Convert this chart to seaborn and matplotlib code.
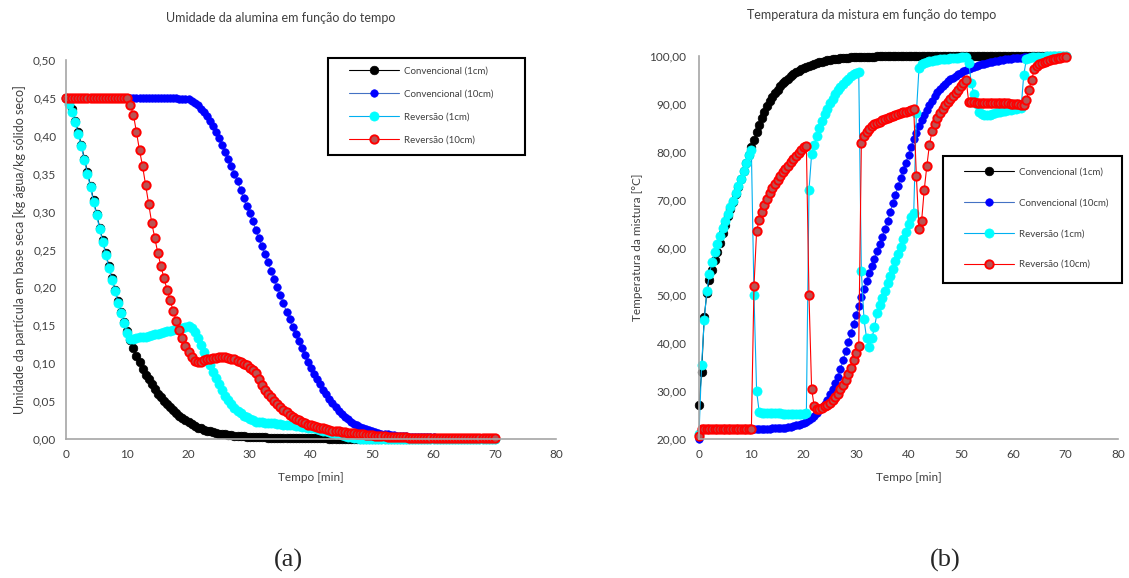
import numpy as np
import matplotlib
matplotlib.use("Agg")
import matplotlib.pyplot as plt
from matplotlib.patches import Rectangle
from matplotlib.ticker import FuncFormatter
import seaborn as sns

# sample times [min], one reading every 0.5 min
TIME = np.arange(0, 70.5, 0.5)

SERIES = ["Convencional (1cm)", "Convencional (10cm)", "Reversão (1cm)", "Reversão (10cm)"]

# (a) moisture [kg water / kg dry solid]
M_CONV_1CM = [
    .450, .445, .435, .420, .405, .388, .370, .352, .334, .315,
    .297, .279, .262, .245, .228, .212, .197, .182, .168, .155,
    .142, .130, .120, .110, .101, .093, .085, .079, .072, .066,
    .060, .055, .050, .046, .042, .038, .034, .031, .028, .025,
    .022, .020, .017, .015, .014, .012, .011, .010, .009, .008,
    .007, .0065, .006, .0055, .005, .0045, .004, .0037, .0034, .0031,
    .003, .0028, .0026, .0024, .0022, .002, .0019, .0018, .0017, .0016,
    .0015, .0014, .0013, .0012, .0012, .0011, .0011, .001, .001, .001,
    .0009, .0009, .0008, .0008, .0007, .0007, .0006, .0006, .0005, .0005,
    .0005, .0004, .0004, .0004, .0003, .0003, .0003, .0003, .0002, .0002,
    .0002, .0002, .0002, .0002, .0002, .0001, .0001, .0001, .0001, .0001,
    .0001, .0001, .0001, .0001, .0001, .0001, .0001, .0001, .0001, .0001,
    0, 0, 0, 0, 0, 0, 0, 0, 0, 0,
    0, 0, 0, 0, 0, 0, 0, 0, 0, 0,
    0,
]
M_CONV_10CM = [
    .450, .450, .450, .450, .450, .450, .450, .450, .450, .450,
    .450, .450, .450, .450, .450, .450, .450, .450, .450, .450,
    .450, .450, .450, .450, .450, .450, .450, .450, .450, .450,
    .450, .450, .450, .450, .450, .4498, .4495, .449, .4485, .4482,
    .448, .446, .443, .440, .436, .431, .426, .420, .413, .405,
    .397, .388, .379, .369, .360, .350, .340, .329, .318, .307,
    .298, .287, .276, .265, .254, .244, .233, .222, .211, .200,
    .190, .179, .168, .158, .148, .138, .129, .120, .111, .102,
    .094, .086, .079, .072, .065, .059, .053, .047, .042, .037,
    .033, .029, .026, .023, .020, .018, .016, .0145, .013, .0115,
    .010, .009, .008, .0072, .0065, .006, .0055, .005, .0045, .004,
    .0037, .0035, .0032, .003, .0028, .0026, .0025, .0023, .0022, .0021,
    .002, .0019, .0018, .0017, .0016, .0015, .0015, .0014, .0014, .0013,
    .0013, .0012, .0012, .0012, .0011, .0011, .0011, .001, .001, .001,
    .001,
]
M_REV_1CM = [
    .450, .442, .432, .418, .402, .386, .368, .350, .332, .313,
    .295, .277, .260, .243, .226, .210, .195, .180, .166, .153,
    .140, .132, .132, .133, .134, .135, .135, .136, .137, .138,
    .139, .140, .141, .142, .143, .144, .145, .146, .147, .148,
    .149, .147, .141, .133, .124, .115, .106, .097, .088, .080,
    .072, .064, .057, .051, .046, .041, .037, .034, .031, .029,
    .027, .025, .023, .022, .022, .021, .021, .021, .021, .020,
    .020, .019, .019, .018, .018, .017, .017, .016, .016, .015,
    .015, .014, .013, .012, .011, .010, .009, .008, .007, .006,
    .005, .004, .003, .002, .0015, .001, .0005, .0003, .0002, .0001,
    0, 0, 0, 0, 0, 0, 0, 0, 0, 0,
    0, 0, 0, 0, 0, 0, 0, 0, 0, 0,
    0, 0, 0, 0, 0, 0, 0, 0, 0, 0,
    0, 0, 0, 0, 0, 0, 0, 0, 0, 0,
    0,
]
M_REV_10CM = [
    .450, .450, .450, .450, .450, .450, .450, .450, .450, .450,
    .450, .450, .450, .450, .450, .450, .450, .450, .450, .450,
    .450, .440, .428, .405, .381, .360, .335, .310, .285, .265,
    .245, .228, .212, .197, .183, .169, .156, .144, .133, .123,
    .115, .108, .103, .101, .102, .104, .105, .106, .107, .107,
    .108, .108, .108, .107, .106, .105, .103, .101, .099, .097,
    .094, .091, .087, .079, .071, .065, .060, .055, .050, .046,
    .042, .038, .035, .032, .029, .027, .025, .023, .021, .019,
    .018, .017, .016, .015, .014, .013, .012, .011, .0105, .010,
    .0095, .009, .0085, .008, .0075, .007, .0065, .006, .0055, .005,
    .0047, .0044, .004, .0037, .0035, .0032, .003, .0028, .0025, .0023,
    .002, .002, .0019, .0018, .0018, .0017, .0016, .0016, .0015, .0015,
    .0014, .0014, .0013, .0013, .0012, .0012, .0012, .0011, .0011, .0011,
    .001, .001, .001, .001, .001, .001, .001, .001, .001, .001,
    .001,
]

# (b) mixture temperature [°C]
T_CONV_1CM = [
    27.0, 34.0, 45.5, 50.5, 53.3, 55.4, 57.3, 59.1, 61.0, 63.0,
    64.8, 66.5, 68.1, 69.6, 71.1, 72.7, 74.3, 76.0, 77.7, 79.3,
    80.9, 82.5, 84.1, 85.6, 87.0, 88.3, 89.5, 90.5, 91.4, 92.3,
    93.0, 93.7, 94.3, 94.8, 95.3, 95.8, 96.2, 96.6, 96.9, 97.2,
    97.5, 97.8, 98.0, 98.2, 98.4, 98.55, 98.7, 98.85, 99.0, 99.1,
    99.2, 99.3, 99.35, 99.45, 99.5, 99.55, 99.6, 99.65, 99.7, 99.72,
    99.75, 99.78, 99.8, 99.82, 99.85, 99.86, 99.88, 99.89, 99.9, 99.91,
    99.93, 99.94, 99.95, 99.95, 99.96, 99.96, 99.97, 99.97, 99.97, 99.98,
    99.98, 99.98, 99.99, 99.99, 99.99, 99.99, 100, 100, 100, 100,
    100, 100, 100, 100, 100, 100, 100, 100, 100, 100,
    100, 100, 100, 100, 100, 100, 100, 100, 100, 100,
    100, 100, 100, 100, 100, 100, 100, 100, 100, 100,
    100, 100, 100, 100, 100, 100, 100, 100, 100, 100,
    100, 100, 100, 100, 100, 100, 100, 100, 100, 100,
    100,
]
T_CONV_10CM = [
    20.0, 22.0, 22.0, 22.0, 22.0, 22.0, 22.0, 22.0, 22.0, 22.0,
    22.0, 22.0, 22.0, 22.0, 22.0, 22.0, 22.0, 22.0, 22.0, 22.0,
    22.0, 22.0, 22.0, 22.0, 22.1, 22.1, 22.1, 22.1, 22.2, 22.2,
    22.2, 22.3, 22.3, 22.4, 22.5, 22.6, 22.7, 22.9, 23.0, 23.2,
    23.4, 23.6, 24.0, 24.4, 24.9, 25.4, 26.0, 26.7, 27.4, 28.2,
    29.3, 30.4, 31.6, 33.0, 34.6, 36.4, 38.3, 40.2, 42.1, 44.0,
    45.9, 47.8, 49.6, 51.3, 53.0, 54.6, 56.2, 57.7, 59.2, 60.7,
    62.2, 63.9, 65.6, 67.4, 69.2, 71.0, 72.8, 74.5, 76.1, 77.7,
    79.3, 81.0, 82.6, 84.0, 85.4, 86.6, 87.7, 88.8, 89.8, 90.7,
    91.6, 92.4, 93.1, 93.7, 94.2, 94.7, 95.1, 95.5, 95.9, 96.2,
    96.5, 96.8, 97.0, 97.3, 97.5, 97.7, 97.9, 98.1, 98.3, 98.4,
    98.6, 98.7, 98.8, 98.9, 99.0, 99.1, 99.2, 99.3, 99.35, 99.4,
    99.5, 99.55, 99.6, 99.65, 99.7, 99.72, 99.75, 99.78, 99.8, 99.82,
    99.85, 99.87, 99.88, 99.9, 99.92, 99.93, 99.95, 99.96, 99.98, 99.99,
    100,
]
T_REV_1CM = [
    21.0, 35.5, 44.8, 51.0, 54.5, 57.0, 59.0, 60.8, 62.5, 64.0,
    65.5, 67.0, 68.4, 69.8, 71.3, 72.8, 74.4, 76.0, 77.7, 79.3,
    80.3, 50.0, 30.0, 25.6, 25.5, 25.5, 25.4, 25.4, 25.4, 25.4,
    25.4, 25.4, 25.3, 25.3, 25.3, 25.3, 25.3, 25.3, 25.3, 25.3,
    25.3, 25.4, 72.0, 79.5, 81.5, 83.3, 84.9, 86.4, 87.8, 89.0,
    90.1, 91.1, 92.0, 92.8, 93.5, 94.2, 94.8, 95.3, 95.8, 96.2,
    96.4, 96.6, 55.0, 45.0, 41.0, 39.3, 41.0, 43.3, 46.3, 47.9,
    49.4, 51.0, 52.5, 54.0, 55.6, 57.1, 58.7, 60.2, 61.8, 63.3,
    64.9, 66.4, 67.3, 88.0, 97.4, 98.3, 98.6, 98.8, 98.9, 99.0,
    99.1, 99.2, 99.3, 99.35, 99.4, 99.45, 99.5, 99.55, 99.6, 99.65,
    99.7, 99.7, 99.75, 98.5, 94.3, 92.0, 90.0, 88.4, 87.8, 87.6,
    87.6, 87.7, 87.9, 88.0, 88.2, 88.3, 88.5, 88.6, 88.7, 88.8,
    88.9, 89.0, 89.1, 89.1, 96.0, 99.3, 99.6, 99.7, 99.75, 99.8,
    99.8, 99.85, 99.85, 99.9, 99.9, 99.9, 99.95, 99.95, 99.95, 100,
    100,
]
T_REV_10CM = [
    20.7, 22.0, 22.0, 22.0, 22.0, 22.0, 22.0, 22.0, 22.0, 22.0,
    22.0, 22.0, 22.0, 22.0, 22.0, 22.0, 22.0, 22.0, 22.0, 22.0,
    22.0, 52.0, 63.5, 65.8, 67.4, 68.8, 70.1, 71.3, 72.4, 73.3,
    74.1, 74.9, 75.7, 76.4, 77.1, 77.8, 78.5, 79.2, 79.8, 80.4,
    81.0, 81.3, 50.0, 30.5, 26.8, 26.2, 26.3, 26.5, 26.8, 27.1,
    27.5, 28.1, 28.8, 29.5, 30.4, 31.3, 32.4, 33.6, 34.9, 36.4,
    38.0, 39.4, 81.8, 83.3, 84.2, 84.8, 85.3, 85.7, 86.0, 86.3,
    86.6, 86.8, 87.0, 87.2, 87.4, 87.6, 87.8, 88.0, 88.2, 88.4,
    88.6, 88.8, 88.9, 75.0, 63.8, 65.5, 72.0, 77.0, 81.5, 84.3,
    85.8, 87.0, 88.0, 88.9, 89.7, 90.4, 91.1, 91.7, 92.3, 92.9,
    93.7, 94.4, 95.0, 90.4, 90.3, 90.3, 90.2, 90.2, 90.2, 90.2,
    90.2, 90.2, 90.2, 90.1, 90.1, 90.1, 90.1, 90.1, 90.1, 90.0,
    90.0, 90.0, 90.0, 89.8, 89.7, 90.8, 93.0, 94.9, 97.2, 98.0,
    98.3, 98.5, 98.7, 98.9, 99.1, 99.3, 99.4, 99.5, 99.6, 99.7,
    99.8,
]

# line colour, marker face, marker edge, marker size, edge width
STYLES = [
    ("#000000", "#000000", "#000000", 6.2, 0.5),
    ("#4472C4", "#0000FF", "#0000FF", 5.4, 0.5),
    ("#00B0F0", "#00FFFF", "#00FFFF", 6.6, 0.5),
    ("#FF0000", "#B85454", "#FF0000", 6.0, 1.4),
]

sns.set_style("white")
plt.rcParams["font.family"] = ["Lato", "DejaVu Sans"]
TEXT = "#404040"
AXIS = "#A6A6A6"
W, H = 1129, 578


def comma(decimals):
    return FuncFormatter(lambda v, p: f"{v:.{decimals}f}".replace(".", ","))


def draw_panel(ax, series, ylim, yticks, ylabel, ypad, ylabel_size):
    for name, values, (lc, fc, ec, ms, mew) in zip(SERIES, series, STYLES):
        sns.lineplot(x=TIME, y=values, ax=ax, color=lc, linewidth=0.8,
                     marker="o", markersize=ms, markerfacecolor=fc,
                     markeredgecolor=ec, markeredgewidth=mew,
                     label=name, clip_on=False)
    ax.set_xlim(0, 80)
    ax.set_ylim(*ylim)
    ax.set_xticks(range(0, 81, 10))
    ax.set_yticks(yticks)
    ax.yaxis.set_major_formatter(comma(2))
    ax.tick_params(length=0, labelsize=8.5, colors=TEXT)
    ax.tick_params(axis="y", pad=ypad)
    ax.tick_params(axis="x", pad=7)
    sns.despine(ax=ax)
    for side in ("left", "bottom"):
        ax.spines[side].set_color(AXIS)
        ax.spines[side].set_linewidth(1.2)
    ax.set_xlabel("Tempo [min]", fontsize=8.5, color=TEXT, labelpad=9)
    ax.set_ylabel(ylabel, fontsize=ylabel_size, color=TEXT, labelpad=5)


def legend_box(ax, x0, y0, x1, y1, first_row, spacing):
    # legend entries without their own frame, plus a plain black box around them
    leg = ax.legend(loc="upper left",
                    bbox_to_anchor=((x0 + 21) / W, 1 - (first_row - 4.6) / H),
                    bbox_transform=fig.transFigure, fontsize=7, frameon=False,
                    borderaxespad=0, borderpad=0, labelspacing=spacing,
                    handlelength=5.1, handletextpad=0.6, labelcolor=TEXT)
    fig.add_artist(Rectangle((x0 / W, 1 - y1 / H), (x1 - x0) / W, (y1 - y0) / H,
                             transform=fig.transFigure, fill=False,
                             edgecolor="black", linewidth=1.5))
    return leg


fig = plt.figure(figsize=(W / 100, H / 100), dpi=100)

ax1 = fig.add_axes([66 / W, 1 - 439 / H, 490 / W, 379 / H])
draw_panel(ax1, [M_CONV_1CM, M_CONV_10CM, M_REV_1CM, M_REV_10CM],
           (0, 0.5), np.arange(0, 0.501, 0.05),
           "Umidade da partícula em base seca [kg água/kg sólido seco]", 7, 9)
legend_box(ax1, 328, 58, 525, 155, 71, 1.43)

ax2 = fig.add_axes([699 / W, 1 - 439 / H, 419 / W, 383 / H])
draw_panel(ax2, [T_CONV_1CM, T_CONV_10CM, T_REV_1CM, T_REV_10CM],
           (20, 100), range(20, 101, 10),
           "Temperatura da mistura [°C]", 9, 8.5)
legend_box(ax2, 943, 156, 1122, 283, 172, 2.25)

fig.text(281 / W, 1 - 18 / H, "Umidade da alumina em função do tempo",
         ha="center", va="center", fontsize=9, color=TEXT)
fig.text(872 / W, 1 - 15 / H, "Temperatura da mistura em função do tempo",
         ha="center", va="center", fontsize=9, color=TEXT)
fig.text(288 / W, 1 - 560 / H, "(a)", ha="center", va="center",
         fontsize=19, family="Liberation Serif")
fig.text(945 / W, 1 - 560 / H, "(b)", ha="center", va="center",
         fontsize=19, family="Liberation Serif")

fig.savefig("out.png", dpi=100)
